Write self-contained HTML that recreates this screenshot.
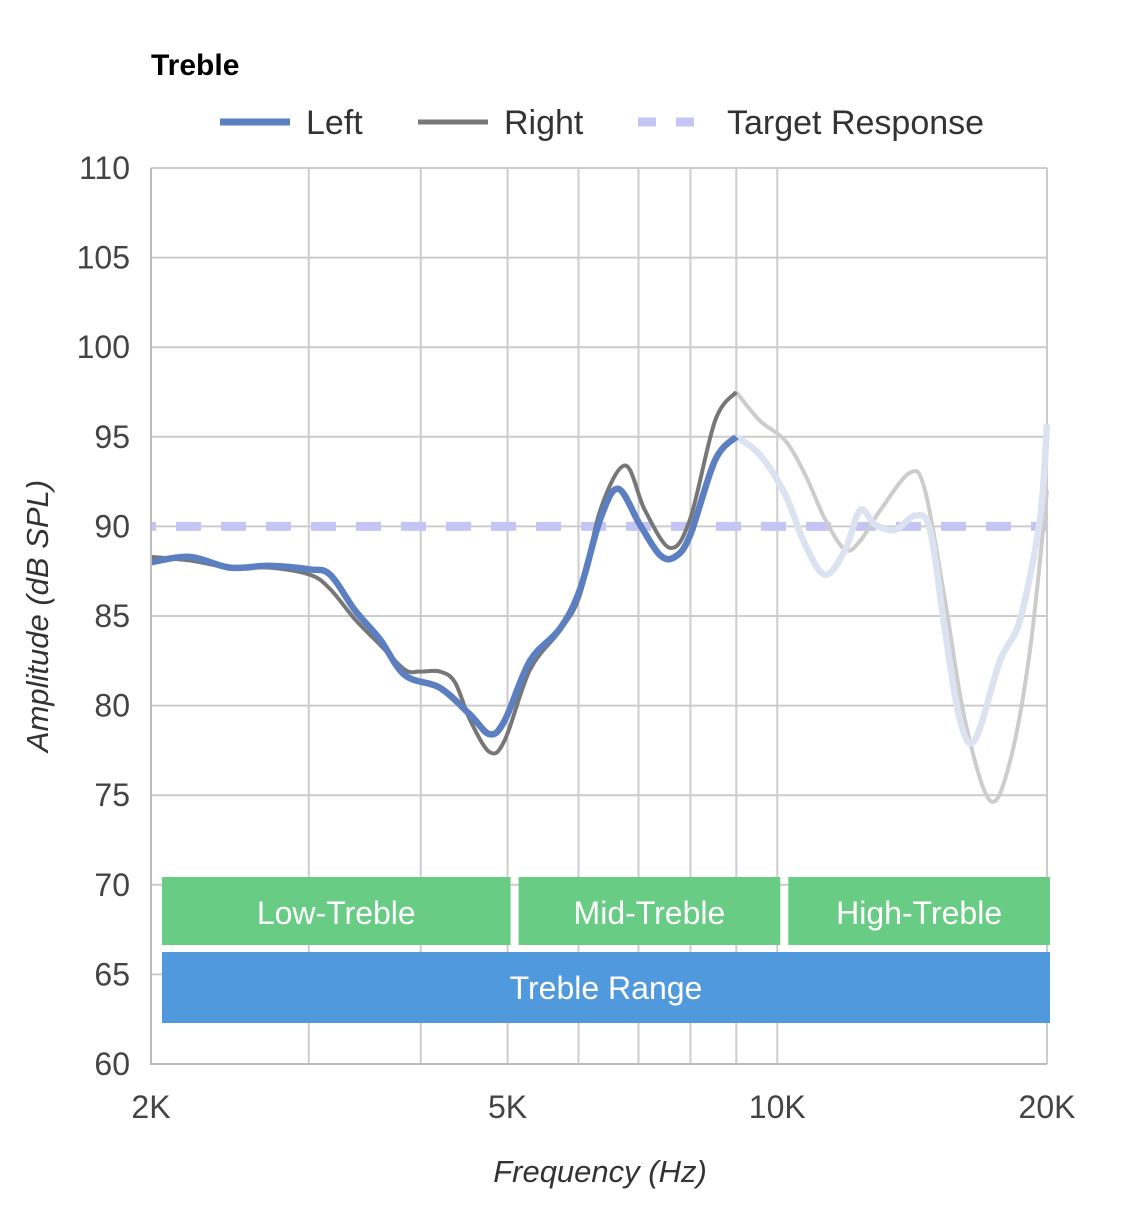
<!DOCTYPE html>
<html><head><meta charset="utf-8"><style>
body{margin:0;background:#fff;}
svg{display:block;font-family:"Liberation Sans",sans-serif;}
</style></head><body>
<svg id="chart" width="1125" height="1227" viewBox="0 0 1125 1227">
<text x="151" y="75" font-size="30" font-weight="bold" fill="#000">Treble</text>
<g>
<line x1="220" y1="122" x2="290" y2="122" stroke="#5b7fc0" stroke-width="7"/>
<text x="306" y="134" font-size="34" fill="#333">Left</text>
<line x1="418" y1="122" x2="488" y2="122" stroke="#777" stroke-width="5"/>
<text x="504" y="134" font-size="34" fill="#333">Right</text>
<line x1="638" y1="122" x2="712" y2="122" stroke="#c5c5f5" stroke-width="9" stroke-dasharray="18,20"/>
<text x="727" y="134" font-size="34" fill="#333">Target Response</text>
</g>
<g id="grid"></g>
<g id="bands"></g>
<g id="series"></g>
<g id="axes"></g>
<text x="600" y="1182" font-size="31" font-style="italic" text-anchor="middle" fill="#333">Frequency (Hz)</text>
<text transform="translate(48,616) rotate(-90)" font-size="31" font-style="italic" text-anchor="middle" fill="#333">Amplitude (dB SPL)</text>
</svg>
<script>
const yTicks=[60,65,70,75,80,85,90,95,100,105,110];
const xGrid=[2000,3000,4000,5000,6000,7000,8000,9000,10000,20000];
const xTickVals=[2000,5000,10000,20000];
const xTickLabels=["2K","5K","10K","20K"];
const targetDb=90;
const leftFreq=[2000,2209,2451,2716,3010,3170,3380,3602,3840,4201,4540,4777,4967,5297,5722,6025,6344,6641,7026,7397,7689,7992,8523,9000,9561,10201,10740,11307,11906,12375,12862,13535,14250,14810,15386,15990,16622,17725,18662,19640,20000];
const leftDb=[88.0,88.3,87.7,87.8,87.6,87.3,85.3,83.7,81.7,81.0,79.5,78.4,79.2,82.5,84.3,86.5,90.4,92.1,90.1,88.4,88.3,89.5,93.7,95.0,94.0,91.8,89.0,87.3,88.7,90.9,90.1,89.8,90.6,89.8,84.2,79.2,78.1,82.5,84.8,90.4,95.7];
const rightFreq=[2000,2209,2451,2716,3010,3170,3380,3602,3840,3992,4201,4368,4540,4777,4967,5297,5722,6025,6344,6763,7117,7591,7992,8523,9000,9561,10201,10740,11307,11906,12375,13029,14067,14620,15386,16196,17275,18190,19145,20000];
const rightDb=[88.3,88.1,87.7,87.7,87.3,86.5,84.8,83.4,82.0,81.9,81.9,81.3,79.2,77.4,78.1,82.0,84.2,86.2,90.9,93.4,90.9,88.8,90.4,95.9,97.5,95.9,94.8,92.9,90.4,88.7,89.2,90.9,93.0,92.0,85.9,79.2,74.7,76.9,83.1,92.0];
const bandNames=["Low-Treble","Mid-Treble","High-Treble"];
const bandStart=[2000,5000,10000];
const bandEnd=[5000,10000,20000];

const X0=151,X1=1047,Y0=168,Y1=1064;
const xs=f=>X0+(X1-X0)*Math.log10(f/2000)/Math.log10(10);
const ys=d=>Y0+(110-d)*(Y1-Y0)/50;
const NS="http://www.w3.org/2000/svg";
function mk(tag,attrs,parent){const e=document.createElementNS(NS,tag);for(const k in attrs)e.setAttribute(k,attrs[k]);parent.appendChild(e);return e;}
const grid=document.getElementById('grid'),axes=document.getElementById('axes'),bands=document.getElementById('bands'),series=document.getElementById('series');
yTicks.forEach(t=>{
 const l=mk('line',{x1:X0,x2:X1,y1:ys(t),y2:ys(t),stroke:'#cccccc','stroke-width':2},grid);
 
 
 const tx=mk('text',{x:130,y:ys(t)+11,'font-size':32,'text-anchor':'end',fill:'#444'},axes);
 tx.textContent=t;
 
 
});
xGrid.forEach(f=>{
 const l=mk('line',{x1:xs(f),x2:xs(f),y1:Y0,y2:Y1,stroke:'#cccccc','stroke-width':2},grid);
 
 
});
xTickVals.forEach((f,i)=>{
 const tx=mk('text',{x:xs(f),y:1118,'font-size':32,'text-anchor':'middle',fill:'#444'},axes);
 tx.textContent=xTickLabels[i];
 
 
});
const ax=mk('path',{d:`M${X0},${Y0}V${Y1}H${X1}`,fill:'none',stroke:'#bbb','stroke-width':2},axes);


bandNames.forEach((n,i)=>{
 const a=xs(bandStart[i])+(i==0?11:11),b=xs(bandEnd[i])+3;
 const r=mk('rect',{x:a,y:877,width:b-a,height:68,fill:'#68cc84'},bands);
 
 
 const t=mk('text',{x:(a+b)/2,y:924,'font-size':32,'text-anchor':'middle',fill:'#fff'},bands);
 t.textContent=n;
 
 
});
const tr=mk('rect',{x:162,y:952,width:888,height:71,fill:'#5199dd'},bands);


const tt=mk('text',{x:606,y:999,'font-size':32,'text-anchor':'middle',fill:'#fff'},bands);
tt.textContent='Treble Range';


const tl=mk('line',{x1:X0,x2:X1,y1:ys(targetDb),y2:ys(targetDb),stroke:'#c5c5f5','stroke-width':9,'stroke-dasharray':'25,20','stroke-dashoffset':'-25'},series);


function smooth(pts){
 let d=`M${pts[0][0]},${pts[0][1]}`;
 for(let i=0;i<pts.length-1;i++){
  const p0=pts[Math.max(0,i-1)],p1=pts[i],p2=pts[i+1],p3=pts[Math.min(pts.length-1,i+2)];
  const c1=[p1[0]+(p2[0]-p0[0])/6,p1[1]+(p2[1]-p0[1])/6],c2=[p2[0]-(p3[0]-p1[0])/6,p2[1]-(p3[1]-p1[1])/6];
  d+=`C${c1[0]},${c1[1]} ${c2[0]},${c2[1]} ${p2[0]},${p2[1]}`;
 }
 return d;
}
function draw(fr,db,solid,faded,w,name){
 const a=[],b=[];
 fr.forEach((f,i)=>{const p=[xs(f),ys(db[i])];if(f<=9000)a.push(p);if(f>=9000)b.push(p);});
 const p2=mk('path',{d:smooth(b),fill:'none',stroke:faded,'stroke-width':w,'stroke-linejoin':'round'},series);
 
 
 const p1=mk('path',{d:smooth(a),fill:'none',stroke:solid,'stroke-width':w,'stroke-linejoin':'round'},series);
 
 
}
draw(rightFreq,rightDb,'#777','#cccccc',4,'right-line');
draw(leftFreq,leftDb,'#5b7fc0','#dbe3f0',6.5,'left-line');
</script>
</body></html>
